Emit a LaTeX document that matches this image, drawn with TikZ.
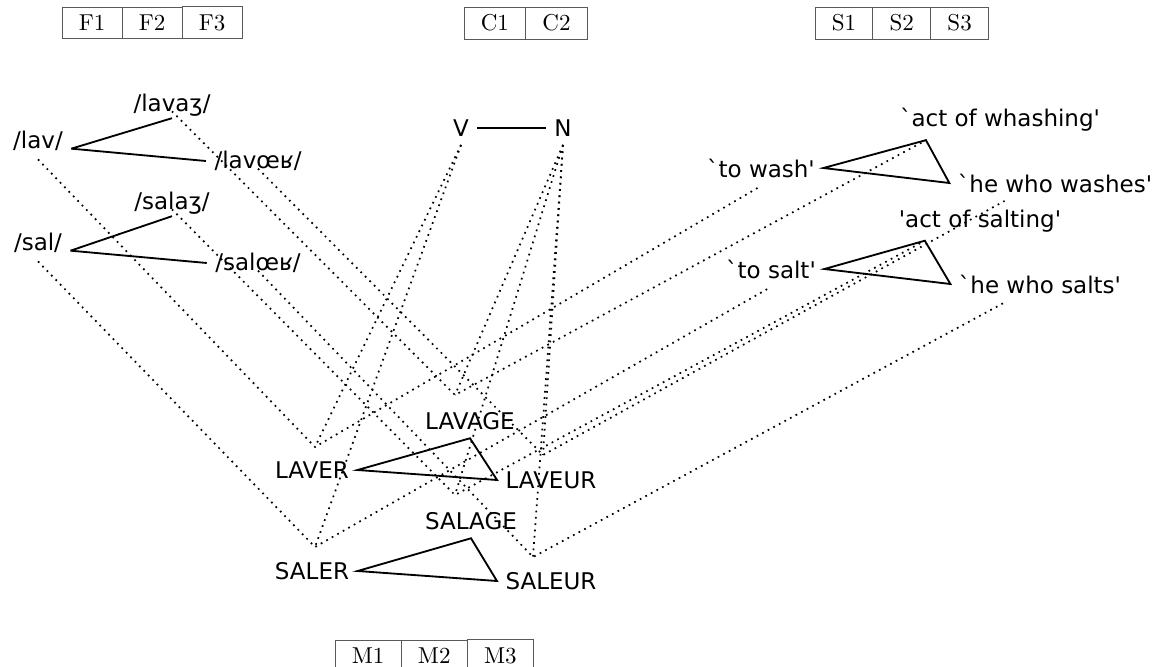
\documentclass[tikz,border=0pt]{standalone}
\usepackage{tikz}
\usetikzlibrary{positioning}
\font\dejavu="DejaVu Sans" at 10pt

\begin{document}
\begin{tikzpicture}[x=0.435pt,y=-0.435pt,line width=0.8pt]
      \tikzstyle{cellbox}=[draw=black!65,line width=0.4pt,outer sep=0pt,inner xsep=7.3pt,minimum height=13.5pt]
      \tikzstyle{lab}=[font=\dejavu]
      \tikzstyle{assoc}=[dotted,line width=0.75pt]
      \useasboundingbox (0,0) rectangle (1159,667);
      \node[cellbox,anchor=north west] (F_1) at (62,7) {F1};
      \node[cellbox,right=0pt of F_1] (F_2) {F2};
      \node[cellbox,right=0pt of F_2] (F_3) {F3};
      \node[cellbox,anchor=north west] (C_1) at (464,7) {C1};
      \node[cellbox,right=0pt of C_1] (C_2) {C2};
      \node[cellbox,anchor=north west] (S_1) at (815,7) {S1};
      \node[cellbox,right=0pt of S_1] (S_2) {S2};
      \node[cellbox,right=0pt of S_2] (S_3) {S3};
      \node[cellbox,anchor=north west] (M_1) at (335,640) {M1};
      \node[cellbox,right=0pt of M_1] (M_2) {M2};
      \node[cellbox,right=0pt of M_2] (M_3) {M3};
      \node[lab] (P_1) at (38,141)  {/lav/};
      \node[lab] (P_2) at (172,105) {/lavaʒ/};
      \node[lab] (P_3) at (258,161) {/lavœʁ/};
      \node[lab] (P_4) at (38,243)  {/sal/};
      \node[lab] (P_5) at (172,203) {/salaʒ/};
      \node[lab] (P_6) at (258,263) {/salœʁ/};
      \node[lab] (V) at (461,128) {V};
      \node[lab] (N) at (563,128) {N};
      \node[lab] (E_1) at (761,168)  {`to wash'};
      \node[lab] (E_2) at (1000,120) {`act of whashing'};
      \node[lab] (E_3) at (1055,183) {`he who washes'};
      \node[lab] (E_4) at (771,269)  {`to salt'};
      \node[lab] (E_5) at (980,221)  {'act of salting'};
      \node[lab] (E_6) at (1040,284) {`he who salts'};
      \node[lab] (W_1) at (312,470) {LAVER};
      \node[lab] (W_2) at (470,421) {LAVAGE};
      \node[lab] (W_3) at (551,480) {LAVEUR};
      \node[lab] (W_4) at (312,571) {SALER};
      \node[lab] (W_5) at (471,521) {SALAGE};
      \node[lab] (W_6) at (551,581) {SALEUR};
      \coordinate (H_1) at (315,447);
      \coordinate (H_2) at (455,395);
      \coordinate (H_3) at (543,455);
      \coordinate (H_4) at (315,547);
      \coordinate (H_5) at (455,495);
      \coordinate (H_6) at (533,557);
      \draw (P_1.base east) -- ([yshift=-3pt]P_2.base);
      \draw (P_1.base east) -- (P_3.west);
      \draw (P_4.base east) -- ([yshift=-3pt]P_5.base);
      \draw (P_4.base east) -- (P_6.west);
      \draw (V) -- (N);
      \draw (E_1.east) -- ([xshift=15pt]E_2.south west) -- (E_3.west) -- cycle;
      \draw (E_4.east) -- ([xshift=15pt]E_5.south west) -- (E_6.west) -- cycle;
      \draw (W_1.east) -- (W_2.south) -- (W_3.west) -- cycle;
      \draw (W_4.east) -- (W_5.south) -- (W_6.west) -- cycle;
      \draw[assoc] (P_1.south) -- (H_1) -- (E_1.south);
      \draw[assoc] (V.south) -- (H_1);
      \draw[assoc] (P_2.base) -- (H_2) -- ([xshift=15pt]E_2.south west);
      \draw[assoc] (N.south) -- (H_2);
      \draw[assoc] (P_3.base) -- (H_3) -- ([xshift=24pt]E_3.south west);
      \draw[assoc] (N.south) -- (H_3);
      \draw[assoc] (P_4.south) -- (H_4) -- (E_4.south);
      \draw[assoc] (V.south) -- (H_4);
      \draw[assoc] (P_5.base) -- (H_5) -- ([xshift=15pt]E_5.south west);
      \draw[assoc] (N.south) -- (H_5);
      \draw[assoc] (P_6.base) -- (H_6) -- ([xshift=24pt]E_6.south west);
      \draw[assoc] (N.south) -- (H_6);
    \end{tikzpicture}
\end{document}
